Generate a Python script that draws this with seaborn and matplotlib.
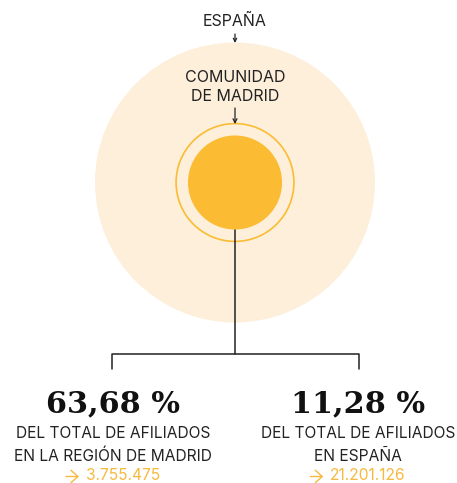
import numpy as np
import matplotlib.pyplot as plt
import seaborn as sns
from matplotlib.patches import Circle

# Datos: afiliados
etiquetas_circulos = ["ESPAÑA", "COMUNIDAD\nDE MADRID"]
afiliados = [21201126, 3755475, 2391489]   # España, Madrid, subconjunto
porcentajes = ["63,68 %", "11,28 %"]
descripciones = ["DEL TOTAL DE AFILIADOS\nEN LA REGIÓN DE MADRID",
                 "DEL TOTAL DE AFILIADOS\nEN ESPAÑA"]
totales = ["3.755.475", "21.201.126"]

sns.set_theme(style="white")
plt.rcParams['font.family'] = ['Inter', 'DejaVu Sans']

W, H = 457, 483
fig = plt.figure(figsize=(W / 100, H / 100), dpi=100)
ax = fig.add_axes([0, 0, 1, 1])
ax.set_xlim(0, W)
ax.set_ylim(H, 0)
ax.set_aspect('equal')
ax.axis('off')

crema = '#FDEFDA'
oro = '#FBBC33'
oro_texto = '#F6B93E'
oscuro = '#222222'

# Radios proporcionales al área
r_max = 140
radios = [r_max * np.sqrt(v / afiliados[0]) for v in afiliados]
cx, cy = 235, 182.5

ax.add_patch(Circle((cx, cy), radios[0], facecolor=crema, edgecolor='none', zorder=1))
ax.add_patch(Circle((cx, cy), radios[1], facecolor='none', edgecolor=oro, lw=1.2, zorder=2))
ax.add_patch(Circle((cx, cy), radios[2], facecolor=oro, edgecolor='none', zorder=3))

# Etiquetas superiores y flechas
ax.text(cx, 21, etiquetas_circulos[0], ha='center', va='center', fontsize=11.5, color=oscuro)
ax.annotate('', xy=(cx, cy - radios[0] + 0.5), xytext=(cx, 34),
            arrowprops=dict(arrowstyle='->', color=oscuro, lw=0.9, shrinkA=0, shrinkB=0,
                            mutation_scale=6))
ax.text(cx, 87, etiquetas_circulos[1], ha='center', va='center', fontsize=11.5,
        color=oscuro, linespacing=1.35)
ax.annotate('', xy=(cx, cy - radios[1] + 0.5), xytext=(cx, 108),
            arrowprops=dict(arrowstyle='->', color=oscuro, lw=0.9, shrinkA=0, shrinkB=0,
                            mutation_scale=7))

# Conector y corchete
x_izq, x_der, y_h = 112, 359, 354
ax.plot([cx, cx], [cy + radios[2], y_h], color=oscuro, lw=1.1, zorder=4)
ax.plot([x_izq, x_izq, x_der, x_der], [369, y_h, y_h, 369], color=oscuro, lw=1.1, zorder=4)

# Textos inferiores
renderer = fig.canvas.get_renderer()
for x, pct, desc, tot in zip([x_izq + 1, x_der - 1], porcentajes, descripciones, totales):
    ax.text(x, 404, pct, ha='center', va='center', fontsize=21.8, fontweight='bold',
            family='DejaVu Serif', color='#111111')
    ax.text(x, 445, desc, ha='center', va='center', fontsize=11.2, color=oscuro,
            linespacing=1.6)
    # flecha y cifra centradas como grupo
    cifra = ax.text(0, 476, tot, ha='left', va='center', fontsize=11.2, color=oro_texto)
    c_w = cifra.get_window_extent(renderer).width
    a_w, hueco = 13, 7
    x0 = x - (a_w + hueco + c_w) / 2
    cifra.set_x(x0 + a_w + hueco)
    ax.annotate('', xy=(x0 + a_w, 476.5), xytext=(x0, 476.5),
                arrowprops=dict(arrowstyle='->,head_length=0.5,head_width=0.45',
                                color=oro_texto, lw=1.0, shrinkA=0, shrinkB=0,
                                mutation_scale=10))

fig.savefig('out.png', dpi=100, facecolor='white')
